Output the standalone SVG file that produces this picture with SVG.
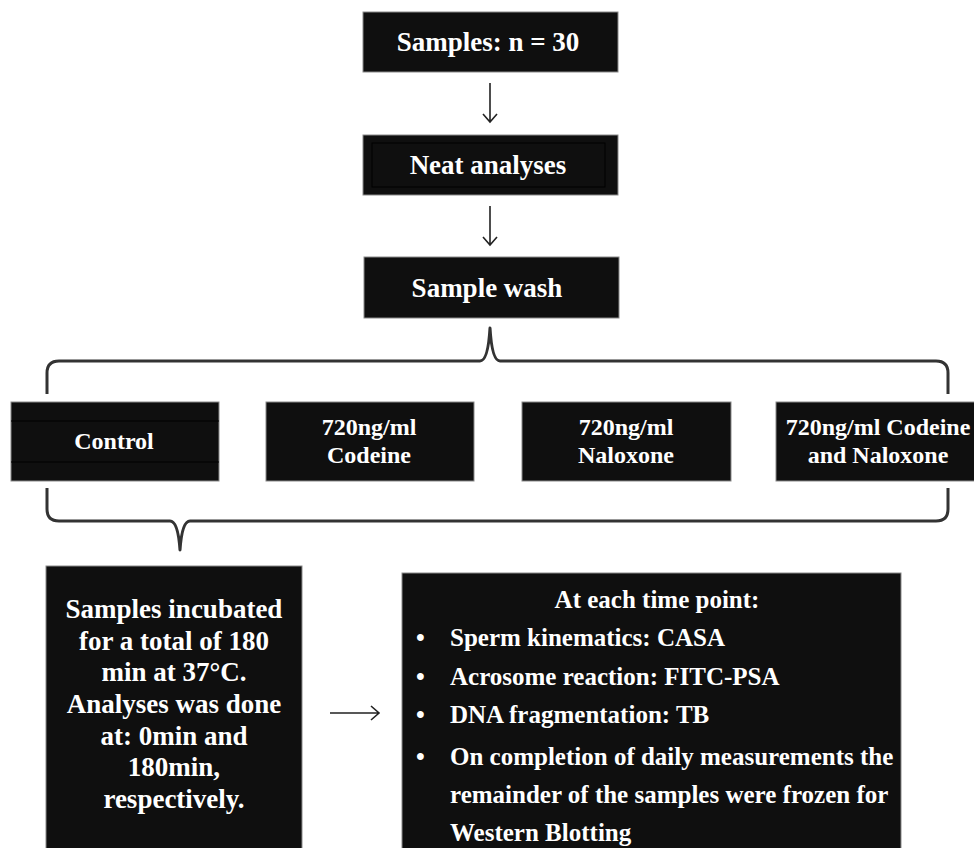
<svg xmlns="http://www.w3.org/2000/svg" width="974" height="848" viewBox="0 0 974 848">
<style>
.box{fill:#0f0f0f;stroke:#8a8a8a;stroke-width:1}
.t{font-family:"Liberation Serif","Times New Roman",serif;font-weight:bold;fill:#fff;font-size:27px}
.m{font-size:24px}
.r{font-size:25px}
.c{text-anchor:middle}
.brace{fill:none;stroke:#333;stroke-width:3;stroke-linejoin:round}
.arr{fill:none;stroke:#222;stroke-width:1.6}
</style>
<rect width="974" height="848" fill="#fff"/>
<g id="n-samples">
<rect class="box" x="363" y="12" width="255" height="60"/>
<text class="t c" x="488" y="51">Samples: n = 30</text>
</g>
<g id="n-neat">
<rect class="box" x="363" y="135" width="255" height="60"/>
<rect x="372" y="143" width="233" height="44" fill="none" stroke="#000" stroke-width="1"/>
<text class="t c" x="488" y="174">Neat analyses</text>
</g>
<g id="n-wash">
<rect class="box" x="364" y="257" width="255" height="61"/>
<text class="t c" x="487" y="297">Sample wash</text>
</g>
<g id="n-control">
<rect class="box" x="11" y="402" width="208" height="79"/>
<line x1="11" y1="421" x2="219" y2="421" stroke="#000" stroke-width="1"/>
<line x1="11" y1="462" x2="219" y2="462" stroke="#000" stroke-width="1"/>
<text class="t c m" x="114" y="449">Control</text>
</g>
<g id="n-codeine">
<rect class="box" x="266" y="402" width="208" height="79"/>
<text class="t c m" x="369" y="435">720ng/ml</text>
<text class="t c m" x="369" y="463">Codeine</text>
</g>
<g id="n-naloxone">
<rect class="box" x="522" y="402" width="209" height="79"/>
<text class="t c m" x="626" y="435">720ng/ml</text>
<text class="t c m" x="626" y="463">Naloxone</text>
</g>
<g id="n-combo">
<rect class="box" x="776" y="402" width="200" height="79"/>
<text class="t c m" x="878" y="435">720ng/ml Codeine</text>
<text class="t c m" x="878" y="463">and Naloxone</text>
</g>
<g id="n-incubate">
<rect class="box" x="46" y="566" width="256" height="290"/>
<text class="t c" x="174" y="618">Samples incubated</text>
<text class="t c" x="174" y="650">for a total of 180</text>
<text class="t c" x="174" y="681">min at 37°C.</text>
<text class="t c" x="174" y="713">Analyses was done</text>
<text class="t c" x="174" y="745">at: 0min and</text>
<text class="t c" x="174" y="776">180min,</text>
<text class="t c" x="174" y="808">respectively.</text>
</g>
<g id="n-timepoint">
<rect class="box" x="402" y="573" width="499" height="290"/>
<text class="t c r" x="657" y="608">At each time point:</text>
<g class="t r">
<text x="416" y="646">•</text><text x="450" y="646">Sperm kinematics: CASA</text>
<text x="416" y="685">•</text><text x="450" y="685">Acrosome reaction: FITC-PSA</text>
<text x="416" y="723">•</text><text x="450" y="723">DNA fragmentation: TB</text>
<text x="416" y="765">•</text><text x="450" y="765">On completion of daily measurements the</text>
<text x="450" y="803">remainder of the samples were frozen for</text>
<text x="450" y="841">Western Blotting</text>
</g>
</g>
<g id="connectors">
<path class="arr" d="M490 83V122M483 114L490 122L497 114"/>
<path class="arr" d="M490 206V245M483 237L490 245L497 237"/>
<path class="brace" d="M47 394V373Q47 361 59 361H480Q488 361 490 328Q492 361 500 361H936Q948 361 948 373V394"/>
<path class="brace" d="M47 488V509Q47 521 59 521H170Q178 521 180 550Q182 521 190 521H936Q948 521 948 509V488"/>
<path class="arr" d="M330 713H379M371 706L379 713L371 720"/>
</g>
</svg>
